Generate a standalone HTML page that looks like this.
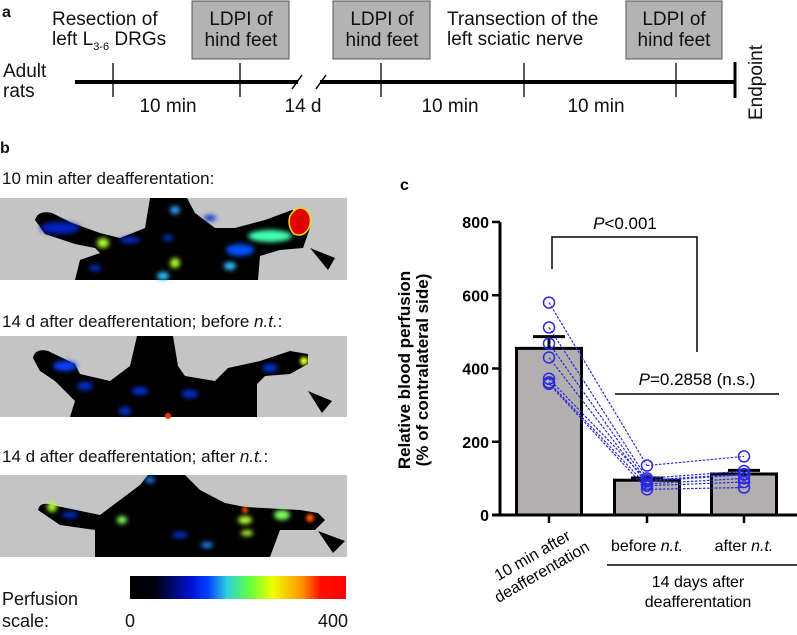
<!DOCTYPE html>
<html><head><meta charset="utf-8">
<style>
html,body{margin:0;padding:0;background:#fff;}
body{width:797px;height:630px;position:relative;overflow:hidden;font-family:"Liberation Sans",Arial,sans-serif;}
svg text{font-family:"Liberation Sans",Arial,sans-serif;}
</style></head>
<body>
<svg id="fig" width="797" height="630" viewBox="0 0 797 630" xmlns="http://www.w3.org/2000/svg">
<defs>
 <filter id="bl" x="-50%" y="-50%" width="200%" height="200%"><feGaussianBlur stdDeviation="2.5"/></filter>
 <filter id="bl2" x="-50%" y="-50%" width="200%" height="200%"><feGaussianBlur stdDeviation="1.5"/></filter>
 <linearGradient id="jet" x1="0" x2="1" y1="0" y2="0">
  <stop offset="0" stop-color="#000"/><stop offset="0.12" stop-color="#000010"/>
  <stop offset="0.28" stop-color="#0010d0"/><stop offset="0.36" stop-color="#0040ff"/>
  <stop offset="0.45" stop-color="#30d0e0"/><stop offset="0.55" stop-color="#60ff40"/>
  <stop offset="0.66" stop-color="#f0ff00"/><stop offset="0.8" stop-color="#ff9000"/>
  <stop offset="0.88" stop-color="#ff1000"/><stop offset="1" stop-color="#ff0000"/>
 </linearGradient>
</defs>

<!-- Panel a: timeline -->
<g font-size="19" fill="#111">
 <text x="2" y="17" font-weight="bold" font-size="16">a</text>
 <text x="52" y="25">Resection of</text>
 <text x="52" y="45">left L<tspan font-size="11" dy="5">3-6</tspan><tspan dy="-5"> DRGs</tspan></text>
 <rect x="192" y="1" width="97" height="58" fill="#b3b3b3" stroke="#555" stroke-width="1"/>
 <text x="241" y="25" text-anchor="middle">LDPI of</text><text x="241" y="46" text-anchor="middle">hind feet</text>
 <rect x="333" y="1" width="97" height="58" fill="#b3b3b3" stroke="#555" stroke-width="1"/>
 <text x="382" y="25" text-anchor="middle">LDPI of</text><text x="382" y="46" text-anchor="middle">hind feet</text>
 <text x="447" y="25">Transection of the</text>
 <text x="447" y="45">left sciatic nerve</text>
 <rect x="626" y="1" width="96" height="58" fill="#b3b3b3" stroke="#555" stroke-width="1"/>
 <text x="674" y="25" text-anchor="middle">LDPI of</text><text x="674" y="46" text-anchor="middle">hind feet</text>
 <text x="3" y="77">Adult</text>
 <text x="3" y="97">rats</text>
 <g stroke="#000">
  <line x1="75" y1="82" x2="298" y2="82" stroke-width="4"/>
  <line x1="320" y1="82" x2="735" y2="82" stroke-width="4"/>
  <line x1="292" y1="89" x2="302" y2="75" stroke-width="1.5"/>
  <line x1="316" y1="89" x2="326" y2="75" stroke-width="1.5"/>
  <line x1="113" y1="63" x2="113" y2="97" stroke-width="1.3"/>
  <line x1="240" y1="63" x2="240" y2="97" stroke-width="1.3"/>
  <line x1="381" y1="63" x2="381" y2="97" stroke-width="1.3"/>
  <line x1="524" y1="63" x2="524" y2="97" stroke-width="1.3"/>
  <line x1="676" y1="63" x2="676" y2="97" stroke-width="1.3"/>
  <line x1="735" y1="62" x2="735" y2="98" stroke-width="3"/>
 </g>
 <text x="168" y="112" text-anchor="middle">10 min</text>
 <text x="303" y="112" text-anchor="middle">14 d</text>
 <text x="450" y="112" text-anchor="middle">10 min</text>
 <text x="596" y="112" text-anchor="middle">10 min</text>
 <text transform="translate(762,120) rotate(-90)">Endpoint</text>
</g>

<!-- Panel b: images -->
<g font-size="17" fill="#111">
 <text x="0" y="153" font-weight="bold" font-size="16">b</text>
 <text x="2" y="184">10 min after deafferentation:</text>
 <g transform="translate(0,198)">
  <rect width="347" height="82" fill="#c4c4c4"/>
  <path d="M35,22 Q38,12 52,15 L72,25 L100,35 L120,40 L145,30 L150,0 L187,0 L195,15 L215,30 L235,30 L265,22 L292,12 L305,15 L310,30 L303,50 L280,52 L260,58 L258,82 L75,82 L80,62 L100,55 L95,50 L75,46 L45,36 Z" fill="#000"/>
  <g filter="url(#bl)">
   <ellipse cx="60" cy="30" rx="20" ry="6" fill="#0020c0"/>
   <ellipse cx="103" cy="45" rx="6" ry="5" fill="#b0ff30"/>
   <ellipse cx="130" cy="42" rx="10" ry="3" fill="#0030d0"/>
   <ellipse cx="175" cy="12" rx="5" ry="4" fill="#30a0ff"/>
   <ellipse cx="175" cy="65" rx="5" ry="5" fill="#b0ff30"/>
   <ellipse cx="163" cy="78" rx="6" ry="4" fill="#30c0ff"/>
   <ellipse cx="168" cy="40" rx="5" ry="3" fill="#0030d0"/>
   <ellipse cx="95" cy="70" rx="6" ry="3" fill="#0030d0"/>
   <ellipse cx="270" cy="38" rx="22" ry="6" fill="#40ffb0"/>
   <ellipse cx="240" cy="52" rx="14" ry="6" fill="#0050ff"/>
   <ellipse cx="230" cy="68" rx="6" ry="4" fill="#30c0ff"/>
   <ellipse cx="210" cy="20" rx="6" ry="3" fill="#0030d0"/>
  </g>
  <path d="M290,18 Q297,6 306,12 Q313,18 309,30 Q303,40 294,36 Q287,28 290,18 Z" fill="#e00000" stroke="#f0e000" stroke-width="1.5"/>
  <path d="M310,50 L335,60 L328,72 Z" fill="#000"/>
 </g>
 <text x="2" y="327">14 d after deafferentation; before <tspan font-style="italic">n.t.</tspan>:</text>
 <g transform="translate(0,336)">
  <rect width="347" height="81" fill="#c4c4c4"/>
  <path d="M33,22 Q35,12 48,15 L75,28 L80,38 L110,45 L130,30 L137,0 L173,0 L178,30 L185,40 L215,45 L228,32 L260,25 L290,15 L308,18 L308,28 L290,38 L265,40 L257,48 L257,81 L70,81 L75,65 L55,45 L40,35 Z" fill="#000"/>
  <g filter="url(#bl)">
   <ellipse cx="65" cy="30" rx="12" ry="5" fill="#1040ff"/>
   <ellipse cx="85" cy="50" rx="8" ry="4" fill="#0030d0"/>
   <ellipse cx="140" cy="55" rx="8" ry="4" fill="#0030d0"/>
   <ellipse cx="190" cy="58" rx="8" ry="4" fill="#0030d0"/>
   <ellipse cx="125" cy="75" rx="6" ry="4" fill="#0030d0"/>
   <ellipse cx="270" cy="32" rx="8" ry="4" fill="#0030d0"/>
  </g>
  <circle cx="304" cy="25" r="4" fill="#e0ff20" filter="url(#bl2)"/>
  <circle cx="168" cy="80" r="3" fill="#ff3000"/>
  <path d="M308,55 L332,65 L322,77 Z" fill="#000"/>
 </g>
 <text x="2" y="462">14 d after deafferentation; after <tspan font-style="italic">n.t.</tspan>:</text>
 <g transform="translate(0,475)">
  <rect width="347" height="82" fill="#c4c4c4"/>
  <path d="M38,35 Q40,26 52,30 L100,40 L140,10 L148,0 L185,0 L200,15 L225,28 L245,32 L300,35 L318,38 L325,45 L315,55 L280,55 L270,82 L95,82 L95,55 L60,50 Z" fill="#000"/>
  <g filter="url(#bl)">
   <ellipse cx="52" cy="32" rx="5" ry="5" fill="#b0ff30"/>
   <ellipse cx="122" cy="45" rx="5" ry="4" fill="#80ff60"/>
   <ellipse cx="70" cy="40" rx="8" ry="3" fill="#0030d0"/>
   <ellipse cx="245" cy="45" rx="7" ry="4" fill="#b0ff30"/>
   <ellipse cx="247" cy="58" rx="6" ry="3" fill="#b0ff30"/>
   <ellipse cx="282" cy="40" rx="8" ry="5" fill="#80ff60"/>
   <ellipse cx="207" cy="70" rx="6" ry="3" fill="#2080ff"/>
   <ellipse cx="150" cy="5" rx="5" ry="3" fill="#2080ff"/>
   <ellipse cx="180" cy="60" rx="8" ry="3" fill="#0030d0"/>
  </g>
  <circle cx="310" cy="43" r="4" fill="#ff5000" filter="url(#bl2)"/>
  <circle cx="245" cy="35" r="3" fill="#ff5000" filter="url(#bl2)"/>
  <path d="M318,56 L345,66 L333,78 Z" fill="#000"/>
 </g>
 <rect x="130" y="576" width="216" height="23" fill="url(#jet)"/>
 <text x="2" y="605" font-size="18">Perfusion</text>
 <text x="2" y="627" font-size="18">scale:</text>
 <text x="130" y="627" font-size="18" text-anchor="middle">0</text>
 <text x="333" y="627" font-size="18" text-anchor="middle">400</text>
</g>

<!-- Panel c: chart -->
<g id="chart"></g>
</svg>
<script>
var categories = ["10 min after deafferentation", "before n.t.", "after n.t."];
var means = [455, 95, 112];
var sems = [32, 6, 10];
var group1 = [580, 512, 468, 430, 372, 362, 358];
var group2 = [135, 100, 92, 85, 95, 80, 70];
var group3 = [160, 120, 110, 100, 112, 90, 75];
var yTicks = [0, 200, 400, 600, 800];
var pMain = "<0.001";
var pNs = "=0.2858 (n.s.)";

var NS = "http://www.w3.org/2000/svg";
var g = document.getElementById("chart");
var x0 = 500, yBase = 515, yTop = 222, yMax = 800;
function yS(v){ return yBase - v / yMax * (yBase - yTop); }
var centers = [549, 647, 744];
function xS(i){ return centers[i]; }
var barW = 65;
function mk(tag, attrs, parent){
  var e = document.createElementNS(NS, tag);
  for (var k in attrs) e.setAttribute(k, attrs[k]);
  (parent || g).appendChild(e);
  return e;
}

var t = mk("text", {x: 400, y: 190, "font-size": 16, "font-weight": "bold"});


t.textContent = "c";

var ax = mk("line", {x1: x0, y1: yTop, x2: x0, y2: yBase + 1, stroke: "#000", "stroke-width": 3});


yTicks.forEach(function(v){
  var y = yS(v);
  var tk = mk("line", {x1: x0 - 8, y1: y, x2: x0, y2: y, stroke: "#000", "stroke-width": 2.5});
  
  
  var tl = mk("text", {x: x0 - 11, y: y + 6, "text-anchor": "end", "font-size": 16, "font-weight": "bold"});
  
  
  tl.textContent = v;
});
var yt = mk("text", {transform: "translate(410,370) rotate(-90)", "text-anchor": "middle", "font-size": 17, "font-weight": "bold"});


yt.textContent = "Relative blood perfusion";
var yt2 = mk("text", {transform: "translate(428,370) rotate(-90)", "text-anchor": "middle", "font-size": 17, "font-weight": "bold"});


yt2.textContent = "(% of contralateral side)";

means.forEach(function(v, i){
  var b = mk("rect", {x: xS(i) - barW/2, y: yS(v), width: barW, height: yBase - yS(v), fill: "#b1afaf", stroke: "#000", "stroke-width": 3});
  
  
  var top = yS(v + sems[i]);
  var eb = mk("path", {d: "M" + xS(i) + "," + yS(v) + " V" + top + " M" + (xS(i) - 16) + "," + top + " H" + (xS(i) + 16), stroke: "#000", "stroke-width": 3, fill: "none"});
  
  
});
var xa = mk("line", {x1: x0 - 8, y1: yBase, x2: 797, y2: yBase, stroke: "#000", "stroke-width": 3});


categories.forEach(function(c, i){
  var tk = mk("line", {x1: xS(i), y1: yBase, x2: xS(i), y2: yBase + 8, stroke: "#000", "stroke-width": 2.5});
  
  
});

var groups = [group1, group2, group3];
for (var k = 0; k < group1.length; k++) {
  for (var gi = 0; gi < 2; gi++) {
    var ln = mk("line", {x1: xS(gi), y1: yS(groups[gi][k]), x2: xS(gi + 1), y2: yS(groups[gi + 1][k]), stroke: "#2a2ad8", "stroke-width": 1.2, "stroke-dasharray": "2.5,1.5"});
    
    
  }
}
groups.forEach(function(arr, gi){
  arr.forEach(function(v){
    var c = mk("circle", {cx: xS(gi), cy: yS(v), r: 5.5, fill: "none", stroke: "#2a2ae0", "stroke-width": 1.5});
    
    
  });
});

var br = mk("path", {d: "M552,269 V237 H697 V352", stroke: "#000", "stroke-width": 1.5, fill: "none"});


var pt = mk("text", {x: 625, y: 229, "text-anchor": "middle", "font-size": 17});


pt.innerHTML = '<tspan font-style="italic">P</tspan>' + pMain.replace("<", "&lt;");
var nl = mk("line", {x1: 615, y1: 394, x2: 779, y2: 394, stroke: "#000", "stroke-width": 1.5});


var nt = mk("text", {x: 697, y: 385, "text-anchor": "middle", "font-size": 17});


nt.innerHTML = '<tspan font-style="italic">P</tspan>' + pNs;

var l1 = mk("text", {transform: "translate(535,560) rotate(-30)", "text-anchor": "middle", "font-size": 16});


l1.innerHTML = '<tspan x="0" y="0">10 min after</tspan><tspan x="0" y="19">deafferentation</tspan>';
[1, 2].forEach(function(i){
  var l = mk("text", {x: xS(i), y: 551, "text-anchor": "middle", "font-size": 16});
  
  
  var parts = categories[i].split(" ");
  l.innerHTML = parts[0] + ' <tspan font-style="italic">' + parts[1] + '</tspan>';
});
var gl = mk("line", {x1: 607, y1: 565, x2: 797, y2: 565, stroke: "#000", "stroke-width": 1.5});


var gt = mk("text", {x: 698, y: 587, "text-anchor": "middle", "font-size": 16});


gt.innerHTML = '<tspan x="698" y="587">14 days after</tspan><tspan x="698" y="607">deafferentation</tspan>';
</script>
</body></html>
